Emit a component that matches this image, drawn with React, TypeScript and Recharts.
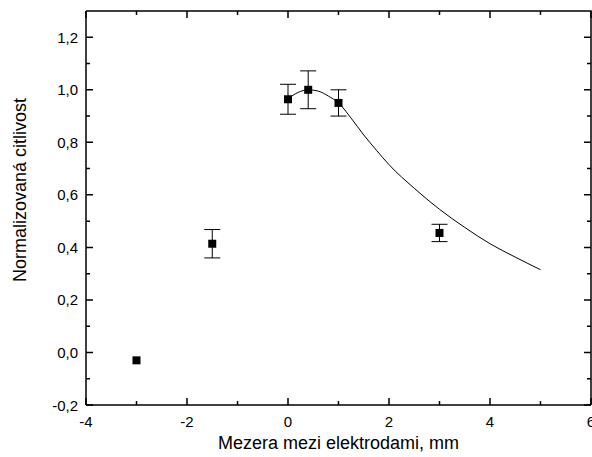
import {
  ComposedChart,
  XAxis,
  YAxis,
  Scatter,
  Line,
  ErrorBar
} from 'recharts';

// measured points
const gapMm = [-3, -1.5, 0, 0.4, 1, 3];
const sensitivity = [-0.03, 0.414, 0.964, 1.0, 0.95, 0.455];
const sensitivityErr = [0, 0.054, 0.057, 0.072, 0.05, 0.033];

// fitted curve
const fitX = [0, 0.2, 0.4, 0.6, 0.8, 1.0, 1.25, 1.5, 1.75, 2.0, 2.5, 3.0, 3.5, 4.0, 4.5, 5.0];
const fitY = [0.966, 0.99, 1.0, 0.995, 0.976, 0.95, 0.892, 0.828, 0.77, 0.715, 0.625, 0.545, 0.476, 0.414, 0.363, 0.315];

const xTicks = [-4, -3, -2, -1, 0, 1, 2, 3, 4, 5, 6];
const yTicks = [-0.2, -0.1, 0, 0.1, 0.2, 0.3, 0.4, 0.5, 0.6, 0.7, 0.8, 0.9, 1.0, 1.1, 1.2];
const xDomain = [-4, 6];
const yDomain = [-0.2, 1.3];

const points = gapMm.map((x, i) => ({ x, y: sensitivity[i], err: sensitivityErr[i] }));
const fit = fitX.map((x, i) => ({ x, y: fitY[i] }));

const W = 592;
const H = 457;
const PLOT = { left: 86, right: 591, top: 11, bottom: 405 };
const FONT = '"Liberation Sans", Arial, sans-serif';

const isMajorX = (v: number) => Math.round(v) % 2 === 0;
const isMajorY = (v: number) => Math.round(v * 10) % 2 === 0;
const fmtY = (v: number) => v.toFixed(1).replace('.', ',');

// frame and inward tick marks, as line segments split by nulls
const X_PER_PX = (xDomain[1] - xDomain[0]) / (PLOT.right - PLOT.left);
const Y_PER_PX = (yDomain[1] - yDomain[0]) / (PLOT.bottom - PLOT.top);
const tickLen = (major: boolean) => (major ? 7 : 4);

const frame = [
  { x: xDomain[0], y: yDomain[1] },
  { x: xDomain[1], y: yDomain[1] },
  { x: xDomain[1], y: yDomain[0] }
];

const tickSegments = [
  ...xTicks.flatMap((v) => [
    { x: v, y: yDomain[0] },
    { x: v, y: yDomain[0] + tickLen(isMajorX(v)) * Y_PER_PX },
    { x: v, y: null },
    { x: v, y: yDomain[1] },
    { x: v, y: yDomain[1] - tickLen(isMajorX(v)) * Y_PER_PX },
    { x: v, y: null }
  ]),
  ...yTicks.flatMap((v) => [
    { x: xDomain[0], y: v },
    { x: xDomain[0] + tickLen(isMajorY(v)) * X_PER_PX, y: v },
    { x: xDomain[0], y: null },
    { x: xDomain[1], y: v },
    { x: xDomain[1] - tickLen(isMajorY(v)) * X_PER_PX, y: v },
    { x: xDomain[1], y: null }
  ])
];

const BottomTick = (props: any) => {
  const { payload } = props;
  if (!isMajorX(payload.value)) return <g />;
  return (
    <text x={payload.coordinate} y={PLOT.bottom + 22} textAnchor="middle" fontSize={15} fontFamily={FONT} fill="#000">
      {payload.value}
    </text>
  );
};

const LeftTick = (props: any) => {
  const { payload } = props;
  if (!isMajorY(payload.value)) return <g />;
  return (
    <text x={PLOT.left - 8} y={payload.coordinate + 5.5} textAnchor="end" fontSize={15} fontFamily={FONT} fill="#000">
      {fmtY(payload.value)}
    </text>
  );
};

const titleStyle: React.CSSProperties = {
  position: 'absolute',
  fontFamily: FONT,
  fontSize: 18,
  color: '#000',
  whiteSpace: 'nowrap',
  lineHeight: '20px'
};

export default function App() {
  return (
    <div style={{ position: 'absolute', left: 0, top: 0, width: W, height: H, background: '#fff' }}>
      <ComposedChart
        width={W}
        height={H}
        margin={{ top: PLOT.top, right: W - PLOT.right, left: 0, bottom: 0 }}
      >
        <XAxis
          type="number"
          dataKey="x"
          domain={xDomain}
          ticks={xTicks}
          interval={0}
          height={H - PLOT.bottom}
          axisLine={{ stroke: '#000', strokeWidth: 1.5 }}
          tickLine={false}
          tick={BottomTick}
        />
        <YAxis
          type="number"
          domain={yDomain}
          ticks={yTicks}
          interval={0}
          width={PLOT.left}
          axisLine={{ stroke: '#000', strokeWidth: 1.5 }}
          tickLine={false}
          tick={LeftTick}
        />
        <Line
          data={frame}
          dataKey="y"
          type="linear"
          stroke="#000"
          strokeWidth={1.5}
          dot={false}
          activeDot={false}
          isAnimationActive={false}
        />
        <Line
          data={tickSegments}
          dataKey="y"
          type="linear"
          stroke="#000"
          strokeWidth={1.5}
          dot={false}
          activeDot={false}
          connectNulls={false}
          isAnimationActive={false}
        />
        <Line
          data={fit}
          dataKey="y"
          type="monotone"
          stroke="#000"
          strokeWidth={1}
          dot={false}
          activeDot={false}
          isAnimationActive={false}
        />
        <Scatter data={points} dataKey="y" shape="square" fill="#000" isAnimationActive={false}>
          <ErrorBar dataKey="err" direction="y" width={8} stroke="#000" strokeWidth={1} />
        </Scatter>
      </ComposedChart>
      <div
        style={{
          ...titleStyle,
          left: PLOT.left,
          width: PLOT.right - PLOT.left,
          top: 433,
          textAlign: 'center'
        }}
      >
        Mezera mezi elektrodami, mm
      </div>
      <div
        style={{
          ...titleStyle,
          left: 20 - 150,
          width: 300,
          top: 189.5 - 10,
          textAlign: 'center',
          transform: 'rotate(-90deg)'
        }}
      >
        Normalizovaná citlivost
      </div>
    </div>
  );
}
